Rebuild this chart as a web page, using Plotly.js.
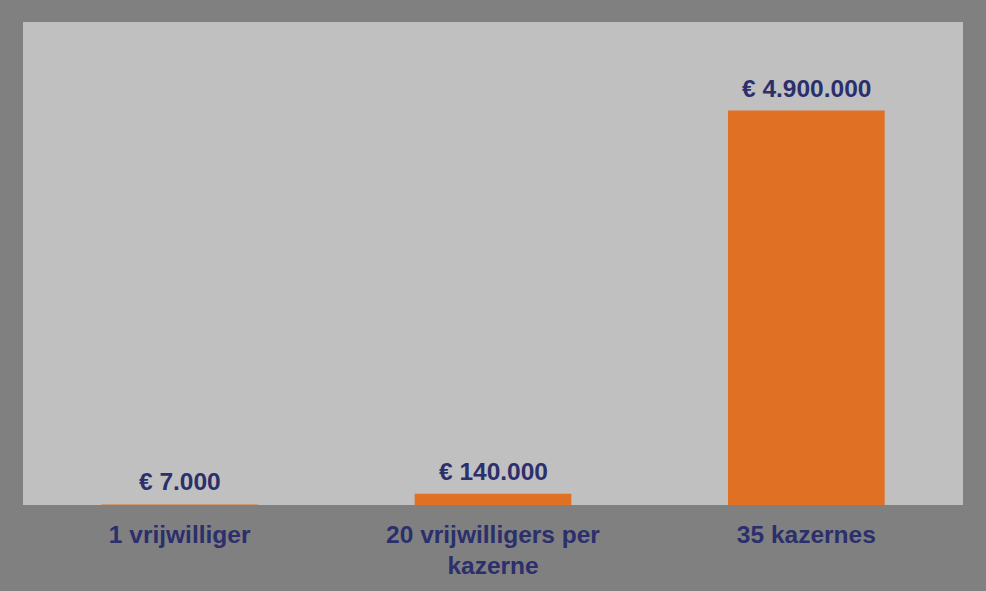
<!DOCTYPE html>
<html>
<head>
<meta charset="utf-8">
<script src="https://cdn.plot.ly/plotly-3.0.1.min.js"></script>
<style>html,body{margin:0;padding:0;background:#808080;}</style>
</head>
<body>
<div id="chart" style="width:986px;height:591px;"></div>
<script>
const categories = ["1 vrijwilliger", "20 vrijwilligers per<br>kazerne", "35 kazernes"];
const values = [7000, 140000, 4900000];
const valueLabels = ["€ 7.000", "€ 140.000", "€ 4.900.000"];

const textColor = "#2b2f6b";
const fontFamily = "Liberation Sans, Arial, sans-serif";

const trace = {
  type: "bar",
  x: categories,
  y: values,
  marker: {color: "#e07024"},
  width: 0.5,
  hoverinfo: "none"
};

const annotations = categories.map((c, i) => ({
  x: c, y: values[i], xref: "x", yref: "y",
  text: "<b>" + valueLabels[i] + "</b>",
  showarrow: false, yanchor: "bottom", yshift: 7,
  font: {family: fontFamily, size: 24.5, color: textColor}
}));

const layout = {
  width: 986, height: 591,
  paper_bgcolor: "#808080",
  plot_bgcolor: "#c0c0c0",
  margin: {l: 23, r: 23, t: 22, b: 86},
  showlegend: false,
  xaxis: {
    tickfont: {family: fontFamily, size: 24.5, color: textColor, weight: "bold"},
    ticks: "", showline: false, showgrid: false, zeroline: false,
    ticklabelstandoff: 12
  },
  yaxis: {
    range: [0, 6000000], visible: false, showgrid: false, zeroline: false
  },
  annotations: annotations
};

Plotly.newPlot("chart", [trace], layout, {displayModeBar: false, staticPlot: true});
</script>
</body>
</html>
